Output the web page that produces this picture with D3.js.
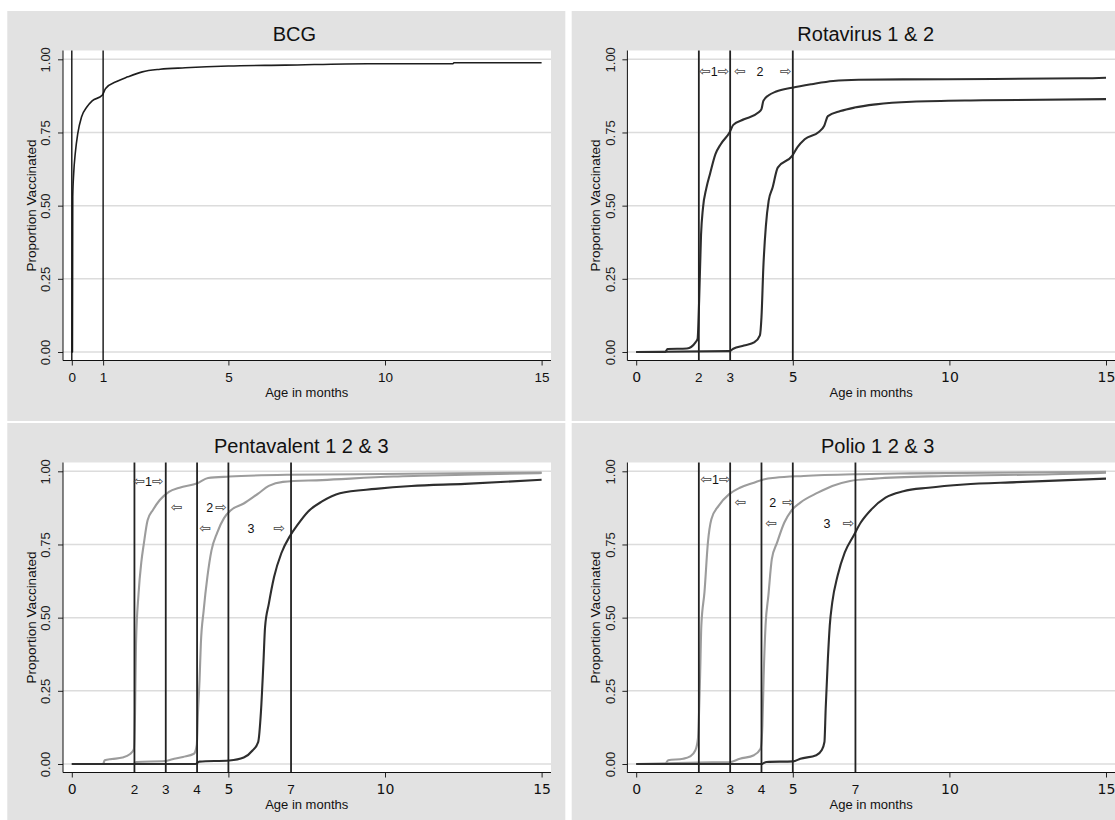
<!DOCTYPE html>
<html lang="en">
<head>
<meta charset="UTF-8">
<title>Proportion vaccinated by age in months</title>
<style>
  body { margin: 0; background: #fff; }
  svg { display: block; }
</style>
</head>
<body>
<svg id="chart" width="1115" height="820"></svg>
<script src="https://cdn.jsdelivr.net/npm/d3@7/dist/d3.min.js"></script>
<script>
// [age in months, proportion vaccinated]
var bcg = [[0,0],[0.02,0],[0.03,0.53],[0.06,0.61],[0.11,0.678],[0.19,0.746],[0.31,0.803],[0.48,0.837],
  [0.65,0.858],[0.97,0.877],[1.08,0.9],[1.45,0.925],[1.79,0.94],[2.25,0.957],[2.82,0.966],[3.62,0.971],
  [5,0.977],[6.81,0.98],[9.44,0.985],[12.17,0.985],[12.2,0.988],[15,0.988]];

var rota1 = [[0,0],[0.93,0],[1,0.01],[1.62,0.012],[1.9,0.034],[1.96,0.045],[2.01,0.176],[2.07,0.4],
  [2.13,0.49],[2.24,0.56],[2.36,0.61],[2.53,0.676],[2.7,0.71],[2.98,0.75],[3.1,0.776],[3.44,0.795],
  [3.9,0.818],[4,0.83],[4.06,0.858],[4.23,0.877],[4.47,0.89],[4.98,0.903],[5.6,0.915],[6.29,0.926],
  [7.1,0.93],[9.93,0.932],[14.26,0.935],[15,0.937]];
var rota2 = [[0,0],[2.98,0.003],[3.1,0.011],[3.44,0.022],[3.78,0.034],[3.95,0.057],[4,0.119],[4.06,0.29],
  [4.14,0.43],[4.23,0.517],[4.35,0.56],[4.52,0.63],[4.98,0.67],[5.15,0.7],[5.38,0.727],[5.83,0.752],
  [6,0.772],[6.12,0.806],[6.52,0.823],[6.97,0.835],[7.65,0.846],[8.79,0.855],[11.07,0.86],[15,0.864]];

var penta1 = [[0,0],[1,0],[1.05,0.013],[1.28,0.017],[1.62,0.022],[1.85,0.033],[1.98,0.05],[2.02,0.18],
  [2.05,0.41],[2.13,0.58],[2.22,0.69],[2.3,0.753],[2.42,0.833],[2.59,0.868],[2.81,0.902],[3.1,0.93],
  [3.44,0.944],[4.01,0.959],[4.35,0.977],[5.03,0.982],[6.85,0.988],[9.13,0.99],[15,0.996]];
var penta2 = [[0,0],[1.96,0],[2.07,0.007],[2.98,0.01],[3.21,0.016],[3.55,0.024],[3.9,0.035],[3.99,0.065],
  [4.03,0.18],[4.08,0.29],[4.12,0.41],[4.21,0.524],[4.33,0.64],[4.46,0.73],[4.64,0.79],[4.86,0.84],
  [5.09,0.868],[5.49,0.89],[5.95,0.924],[6.29,0.95],[6.74,0.964],[7.99,0.97],[10.27,0.982],[12.55,0.988],[15,0.994]];
var penta3 = [[0,0],[3.95,0],[4.07,0.008],[5.03,0.012],[5.49,0.022],[5.77,0.046],[5.95,0.075],[6.04,0.18],
  [6.12,0.35],[6.17,0.467],[6.29,0.547],[6.46,0.64],[6.69,0.72],[6.97,0.78],[7.2,0.816],[7.54,0.862],
  [7.99,0.897],[8.56,0.925],[9.7,0.94],[10.84,0.95],[12.55,0.957],[15,0.971]];

var polio1 = [[0,0],[0.93,0],[1.02,0.013],[1.5,0.018],[1.72,0.026],[1.89,0.047],[1.97,0.086],[2.04,0.3],
  [2.08,0.473],[2.18,0.587],[2.29,0.757],[2.4,0.836],[2.63,0.882],[2.97,0.922],[3.31,0.944],[3.76,0.961],
  [4.1,0.973],[4.44,0.978],[5.35,0.984],[7.05,0.99],[8.75,0.993],[15,0.998]];
var polio2 = [[0,0],[2,0.005],[2.97,0.006],[3.31,0.018],[3.76,0.03],[3.97,0.052],[4.03,0.132],[4.07,0.302],
  [4.13,0.473],[4.22,0.575],[4.33,0.7],[4.5,0.757],[4.73,0.825],[4.95,0.865],[5.24,0.893],[5.8,0.927],
  [6.26,0.95],[6.83,0.967],[7.62,0.975],[9.88,0.984],[13.29,0.99],[15,0.995]];
var polio3 = [[0,0],[4,0],[4.16,0.007],[5.01,0.009],[5.24,0.018],[5.75,0.03],[5.92,0.047],[6.01,0.075],
  [6.05,0.189],[6.12,0.359],[6.18,0.473],[6.26,0.552],[6.43,0.643],[6.66,0.723],[6.94,0.78],[7.17,0.825],
  [7.51,0.87],[7.96,0.91],[8.53,0.932],[9.33,0.944],[10.46,0.955],[12.15,0.963],[15,0.975]];

// reference ages (vertical lines) and the extra labels under them
var bcgLines = [0, 1];
var rotaLines = [2, 3, 5];
var pentaLines = [2, 3, 4, 5, 7];
var polioLines = [2, 3, 4, 5, 7];

var yTicks = [0, 0.25, 0.5, 0.75, 1];
var xTicks = [0, 5, 10, 15];
var bcgTicks = [0, 1, 5, 10, 15];
var rotaExtra = [2, 3];
var pentaExtra = [2, 3, 4, 7];
var polioExtra = [2, 3, 4, 7];

// window notes: [age, proportion, text]
var rotaNotes = [[2.49, 0.962, '⇦1⇨'], [3.31, 0.962, '⇦'], [3.95, 0.962, '2'], [4.78, 0.962, '⇨']];
var pentaNotes = [[2.45, 0.969, '⇦1⇨'], [3.35, 0.881, '⇦'], [4.40, 0.881, '2'], [4.77, 0.881, '⇨'],
  [4.26, 0.807, '⇦'], [5.72, 0.807, '3'], [6.63, 0.807, '⇨']];
var polioNotes = [[2.53, 0.977, '⇦1⇨'], [3.33, 0.898, '⇦'], [4.36, 0.898, '2'], [4.85, 0.898, '⇨'],
  [4.31, 0.824, '⇦'], [6.09, 0.824, '3'], [6.78, 0.824, '⇨']];

var DARK = '#2e2e2e', LIGHT = '#9c9c9c';
var panelW = 558, panelH = 410;
var plotL = 55.7, plotR = 543.7, plotT = 39.5, plotB = 349.5;

var panels = [
  {title: 'BCG', px: 7.3, py: 11, tx: 287, series: [bcg], colors: ['#1e1e1e'], lines: bcgLines,
    lineColor: '#111', lineW: 1.4, ticks: bcgTicks, extra: [], notes: [], plain: true},
  {title: 'Rotavirus 1 & 2', px: 571.7, py: 11, tx: 294, series: [rota1, rota2], colors: [DARK, DARK],
    lines: rotaLines, lineColor: '#222', lineW: 1.8, ticks: xTicks, extra: rotaExtra, notes: rotaNotes},
  {title: 'Pentavalent 1 2 & 3', px: 7.3, py: 423, tx: 294, series: [penta1, penta2, penta3],
    colors: [LIGHT, LIGHT, DARK], lines: pentaLines, lineColor: '#222', lineW: 1.8, ticks: xTicks,
    extra: pentaExtra, notes: pentaNotes},
  {title: 'Polio 1 2 & 3', px: 571.7, py: 423, tx: 306, series: [polio1, polio2, polio3],
    colors: [LIGHT, LIGHT, DARK], lines: polioLines, lineColor: '#222', lineW: 1.8, ticks: xTicks,
    extra: polioExtra, notes: polioNotes}
];

var svg = d3.select('#chart');

panels.forEach(function(p) {
  var g = svg.append('g').attr('transform', 'translate(' + p.px + ',' + p.py + ')');
  var x = d3.scaleLinear().domain([0, 15]).range([64.5, 534.3]);
  var y = d3.scaleLinear().domain([0, 1]).range([341, 48.3]);

  g.append('rect').attr('width', panelW).attr('height', panelH).attr('fill', '#e2e2e2');
  g.append('rect').attr('x', plotL).attr('y', plotT)
    .attr('width', plotR - plotL).attr('height', plotB - plotT).attr('fill', '#fff');

  // grid
  g.append('g').selectAll('line').data(yTicks).enter().append('line')
    .attr('x1', plotL).attr('x2', plotR)
    .attr('y1', function(d) { return y(d); }).attr('y2', function(d) { return y(d); })
    .attr('stroke', '#dcdcdc').attr('stroke-width', 1.5);

  // curves
  var line = d3.line()
    .x(function(d) { return x(d[0]); })
    .y(function(d) { return y(d[1]); })
    .curve(d3.curveMonotoneX);
  p.series.forEach(function(s, i) {
    g.append('path').datum(s)
      .attr('d', line)
      .attr('fill', 'none')
      .attr('stroke', p.colors[i])
      .attr('stroke-width', p.plain ? 1.6 : 2.1)
      .attr('stroke-linejoin', 'round');
  });

  // reference lines
  g.append('g').selectAll('line').data(p.lines).enter().append('line')
    .attr('x1', function(d) { return x(d); }).attr('x2', function(d) { return x(d); })
    .attr('y1', plotT).attr('y2', plotB)
    .attr('stroke', p.lineColor).attr('stroke-width', p.lineW);

  // window notes
  p.notes.forEach(function(n) {
    var t = g.append('text')
      .attr('x', x(n[0])).attr('y', y(n[1]))
      .attr('dy', '0.35em')
      .attr('text-anchor', 'middle');
    n[2].split('').forEach(function(ch) {
      var arrow = ch === '⇦' || ch === '⇨';
      t.append('tspan').text(ch)
        .attr('font-family', arrow ? 'DejaVu Sans' : 'Liberation Sans, Arial, sans-serif')
        .attr('font-size', arrow ? 14 : 12.5)
        .attr('fill', arrow ? '#444' : '#111');
    });
  });

  // y axis
  var ya = g.append('g').attr('transform', 'translate(' + plotL + ',0)')
    .call(d3.axisLeft(y).tickValues(yTicks).tickSize(5).tickFormat(d3.format('.2f')));
  ya.select('.domain').remove();
  ya.selectAll('.tick line').attr('stroke', '#222');
  ya.selectAll('.tick text')
    .attr('x', null).attr('dy', null)
    .attr('text-anchor', 'middle')
    .attr('transform', 'translate(' + (43 - plotL) + ',0) rotate(-90)')
    .attr('font-family', 'Liberation Sans, Arial, sans-serif')
    .attr('font-size', 13).attr('fill', '#222');

  // x axis
  var xa = g.append('g').attr('transform', 'translate(0,' + plotB + ')')
    .call(d3.axisBottom(x).tickValues(p.ticks).tickSize(5).tickFormat(d3.format('d')));
  xa.select('.domain').remove();
  xa.selectAll('.tick line').attr('stroke', '#222');
  xa.selectAll('.tick text')
    .attr('y', 21).attr('dy', null)
    .attr('font-family', p.plain ? 'Liberation Sans, Arial, sans-serif' : 'DejaVu Sans')
    .attr('font-size', p.plain ? 13.5 : 14).attr('fill', '#111');
  g.append('g').selectAll('text').data(p.extra).enter().append('text')
    .attr('x', function(d) { return x(d); }).attr('y', plotB + 21)
    .attr('text-anchor', 'middle')
    .attr('font-family', 'Liberation Sans, Arial, sans-serif')
    .attr('font-size', 13.5).attr('fill', '#111')
    .text(function(d) { return d; });

  // axis lines
  g.append('line').attr('x1', plotL).attr('x2', plotL).attr('y1', plotT).attr('y2', plotB)
    .attr('stroke', '#111').attr('stroke-width', 1);
  g.append('line').attr('x1', plotL).attr('x2', plotR).attr('y1', plotB).attr('y2', plotB)
    .attr('stroke', '#111').attr('stroke-width', 1);

  // titles
  g.append('text').attr('x', p.tx).attr('y', 30)
    .attr('text-anchor', 'middle')
    .attr('font-family', 'Liberation Sans, Arial, sans-serif')
    .attr('font-size', 20).attr('fill', '#111')
    .text(p.title);
  g.append('text').attr('x', x(7.5)).attr('y', 386)
    .attr('text-anchor', 'middle')
    .attr('font-family', 'Liberation Sans, Arial, sans-serif')
    .attr('font-size', 13).attr('fill', '#111')
    .text('Age in months');
  g.append('text')
    .attr('transform', 'translate(28.4,' + ((plotT + plotB) / 2) + ') rotate(-90)')
    .attr('text-anchor', 'middle')
    .attr('font-family', 'Liberation Sans, Arial, sans-serif')
    .attr('font-size', 13.5).attr('fill', '#111')
    .text('Proportion Vaccinated');
});
</script>
</body>
</html>
